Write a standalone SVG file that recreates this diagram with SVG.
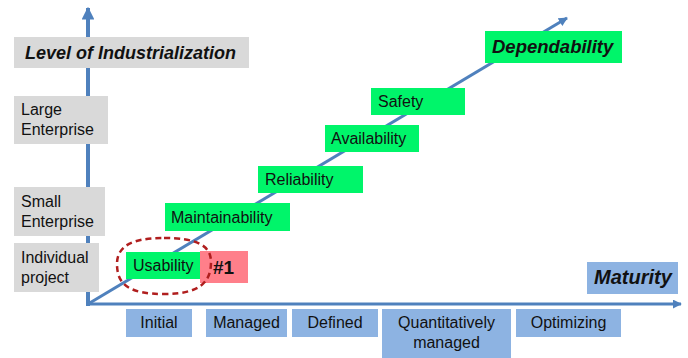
<svg xmlns="http://www.w3.org/2000/svg" width="688" height="358" viewBox="0 0 688 358">
<style>
.t{font-family:"Liberation Sans",Arial,sans-serif;font-size:16px;fill:#111}
.bi{font-family:"Liberation Sans",Arial,sans-serif;font-weight:bold;font-style:italic;fill:#111}
.g{fill:#d9d9d9}
.gr{fill:#00f56a}
.bl{fill:#8db3e2}
.ax{stroke:#4f81bd;fill:none}
</style>
<defs>
<marker id="ah" viewBox="0 0 10 10" refX="9" refY="5" markerWidth="3.2" markerHeight="3.2" orient="auto" markerUnits="strokeWidth">
<path d="M0,0 L10,5 L0,10 z" fill="#4f81bd"/>
</marker>
<marker id="ah2" viewBox="0 0 10 10" refX="9" refY="5" markerWidth="3" markerHeight="3" orient="auto" markerUnits="strokeWidth">
<path d="M0,0 L10,5 L0,10 z" fill="#4f81bd"/>
</marker>
</defs>
<g id="connectors">
<line class="ax" x1="88" y1="306" x2="88" y2="8" stroke-width="4" marker-end="url(#ah)"/>
<line class="ax" x1="86" y1="304" x2="681" y2="304" stroke-width="3" marker-end="url(#ah2)"/>
<line class="ax" x1="88" y1="304" x2="567" y2="18" stroke-width="3" marker-end="url(#ah2)"/>
</g>
<g id="level">
<rect class="g" x="14" y="37" width="235" height="31"/>
<text class="bi" x="25" y="59" style="font-size:18px">Level of Industrialization</text>
</g>
<g id="large">
<rect class="g" x="14" y="96" width="94" height="48"/>
<text class="t" x="21" y="115">Large</text>
<text class="t" x="21" y="135">Enterprise</text>
</g>
<g id="small">
<rect class="g" x="14" y="187" width="91" height="49"/>
<text class="t" x="21" y="207">Small</text>
<text class="t" x="21" y="227">Enterprise</text>
</g>
<g id="individual">
<rect class="g" x="14" y="243" width="85" height="49"/>
<text class="t" x="21" y="263">Individual</text>
<text class="t" x="21" y="283">project</text>
</g>
<g id="usability">
<rect class="gr" x="126" y="252" width="75" height="27"/>
<text class="t" x="133" y="271">Usability</text>
</g>
<g id="n1">
<rect fill="#ff7f8a" x="200" y="251" width="48" height="32"/>
<text class="t" x="213" y="274" style="font-size:19px;font-weight:bold">#1</text>
</g>
<g id="highlight">
<path d="M164,238 C196,238 211,245 211,262 C211,282 200,294 164,294 C128,294 117,284 117,264 C117,246 132,238 164,238 Z" fill="none" stroke="#b01e1e" stroke-width="2.5" stroke-dasharray="6,4"/>
</g>
<g id="maintainability">
<rect class="gr" x="165" y="203" width="125" height="28"/>
<text class="t" x="171" y="223">Maintainability</text>
</g>
<g id="reliability">
<rect class="gr" x="258" y="166" width="105" height="27"/>
<text class="t" x="265" y="185">Reliability</text>
</g>
<g id="availability">
<rect class="gr" x="325" y="125" width="94" height="27"/>
<text class="t" x="331" y="144">Availability</text>
</g>
<g id="safety">
<rect class="gr" x="371" y="88" width="94" height="27"/>
<text class="t" x="378" y="107">Safety</text>
</g>
<g id="dependability">
<rect class="gr" x="485" y="31" width="137" height="32"/>
<text class="bi" x="492" y="53" style="font-size:18.5px">Dependability</text>
</g>
<g id="maturity">
<rect class="bl" x="587" y="262" width="91" height="32"/>
<text class="bi" x="594" y="284" style="font-size:20px">Maturity</text>
</g>
<g id="initial">
<rect class="bl" x="126" y="309" width="66" height="28"/>
<text class="t" x="159" y="328" text-anchor="middle">Initial</text>
</g>
<g id="managed">
<rect class="bl" x="206" y="309" width="81" height="28"/>
<text class="t" x="246.5" y="328" text-anchor="middle">Managed</text>
</g>
<g id="defined">
<rect class="bl" x="292" y="309" width="86" height="28"/>
<text class="t" x="335" y="328" text-anchor="middle">Defined</text>
</g>
<g id="quant">
<rect class="bl" x="382" y="309" width="129" height="49"/>
<text class="t" x="446.5" y="328" text-anchor="middle">Quantitatively</text>
<text class="t" x="446.5" y="348" text-anchor="middle">managed</text>
</g>
<g id="optimizing">
<rect class="bl" x="516" y="309" width="105" height="28"/>
<text class="t" x="568.5" y="328" text-anchor="middle">Optimizing</text>
</g>
</svg>
